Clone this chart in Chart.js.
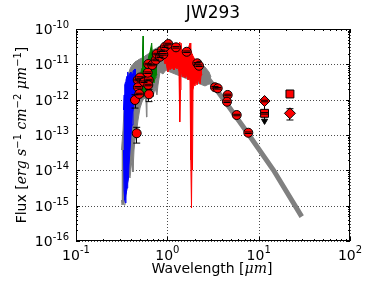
<!DOCTYPE html>
<html>
<head>
<meta charset="utf-8">
<script src="https://cdn.jsdelivr.net/npm/chart.js@4.4.1/dist/chart.umd.min.js"></script>
<style>
  html, body { margin: 0; padding: 0; background: #fff; }
  #wrap { width: 373px; height: 296px; }
</style>
</head>
<body>
<div id="wrap"><canvas id="sed"></canvas></div>
<script>
// Photometry (red circles), wavelength in micron, flux in erg/s/cm2/micron
const photWave = [0.4426, 0.4620, 0.4738, 0.5021, 0.4774, 0.4933, 0.5553, 0.6252, 0.6189, 0.6298,
                  0.6095, 0.6189, 0.6843, 0.7459, 0.7648, 0.8311, 0.8679, 0.9035, 0.9430, 1.025,
                  1.244, 1.630, 2.129, 2.223, 3.327, 3.561, 4.581, 4.50, 5.749, 7.70];
const photFlux = [9.78e-13, 1.12e-13, 3.60e-12, 4.24e-12, 2.24e-12, 1.45e-12, 3.22e-12, 3.60e-12, 2.60e-12, 1.42e-12,
                  5.80e-12, 1.02e-11, 9.57e-12, 1.33e-11, 1.96e-11, 1.64e-11, 2.43e-11, 1.92e-11, 3.16e-11, 3.76e-11,
                  3.03e-11, 2.27e-11, 1.07e-11, 9.14e-12, 2.24e-12, 2.10e-12, 1.36e-12, 8.75e-13, 3.68e-13, 1.16e-13];
const photErr  = [4.0e-13, 5.3e-14, 1.8e-13, 2.1e-13, 1.1e-13, 7.0e-14, 1.6e-13, 1.8e-13, 1.3e-13, 5.4e-13,
                  2.9e-13, 5.0e-13, 4.8e-13, 6.6e-13, 9.8e-13, 8.2e-13, 1.2e-12, 9.6e-13, 1.6e-12, 1.9e-12,
                  1.5e-12, 1.1e-12, 5.4e-13, 4.6e-13, 1.1e-13, 1.05e-13, 6.8e-14, 4.4e-14, 1.8e-14, 5.8e-15];

// diamonds and squares at mid-IR
const diaWave = [11.6, 22.0];
const diaFlux = [9.16e-13, 4.11e-13];
const diaErr  = [4.6e-14, 1.45e-13];
const sqWave = [11.6, 22.0];
const sqFlux = [4.11e-13, 1.45e-12];
const sqErr  = [2.0e-14, 0];

// upper limit
const limWave = [11.6];
const limTop = [9.16e-13];
const limBottom = [2.5e-13];

// model spectrum (grey), noisy part drawn as a band
const modelWave = [0.3148, 0.3189, 0.3271, 0.3355, 0.3439, 0.3527, 0.3618, 0.3710, 0.3805, 0.3903,
                   0.4002, 0.4104, 0.4208, 0.4316, 0.4426, 0.4539, 0.4655, 0.4774, 0.5021, 0.5281,
                   0.5553, 0.5840, 0.5913, 0.5988, 0.6141, 0.6458, 0.6792, 0.6967, 0.7328, 0.7705,
                   0.7902, 0.8311, 0.8966, 0.9670, 1.070, 1.213, 1.376, 1.561, 1.771, 2.009,
                   2.280, 2.585, 2.859, 3.007];
const modelHi = [3.76e-14, 5.93e-14, 1.38e-13, 5.09e-13, 9.78e-13, 2.14e-12, 3.60e-12, 4.99e-12, 6.07e-12, 7.38e-12,
                 8.41e-12, 9.57e-12, 1.02e-11, 1.09e-11, 1.16e-11, 1.24e-11, 1.24e-11, 1.33e-11, 1.42e-11, 1.51e-11,
                 1.61e-11, 1.84e-11, 1.84e-11, 1.84e-11, 1.96e-11, 2.09e-11, 2.38e-11, 2.55e-11, 2.72e-11, 2.90e-11,
                 3.09e-11, 3.30e-11, 3.52e-11, 3.30e-11, 3.09e-11, 2.72e-11, 2.38e-11, 2.09e-11, 1.72e-11, 1.42e-11,
                 1.09e-11, 8.41e-12, 6.07e-12, 4.38e-12];
const modelLo = [1.44e-15, 1.04e-15, 1.19e-15, 1.04e-15, 1.44e-15, 2.00e-15, 3.16e-15, 5.32e-15, 7.36e-15, 6.07e-15,
                 1.16e-14, 1.96e-14, 8.97e-15, 3.76e-14, 7.21e-14, 1.00e-13, 1.58e-13, 2.65e-13, 5.80e-13, 8.60e-13,
                 1.11e-12, 9.78e-13, 3.23e-13, 9.78e-13, 1.65e-12, 1.36e-12, 1.88e-12, 1.19e-12, 2.14e-12, 1.36e-12,
                 2.60e-12, 6.07e-12, 5.33e-12, 6.92e-12, 6.07e-12, 5.33e-12, 4.68e-12, 4.10e-12, 3.60e-12, 3.16e-12,
                 2.77e-12, 2.44e-12, 2.77e-12, 2.96e-12];
// model Rayleigh-Jeans tail
const tailWave = [2.28, 2.70, 3.59, 4.85, 7.4, 14.5, 29.6];
const tailFlux = [8.1e-12, 4.5e-12, 1.66e-12, 5.7e-13, 1.24e-13, 1.02e-14, 4.9e-16];

// blue spectrum
const blueWave = [0.331, 0.3355, 0.3396, 0.3439, 0.3483, 0.3527, 0.3618, 0.3683, 0.3758, 0.3805,
                  0.3903, 0.4002, 0.4104, 0.4208, 0.4316, 0.4426, 0.4482, 0.4539];
const blueHi = [5.09e-13, 1.36e-12, 1.88e-12, 2.60e-12, 3.16e-12, 3.60e-12, 4.68e-12, 6.07e-12, 4.10e-12, 4.68e-12,
                5.69e-12, 6.07e-12, 5.33e-12, 6.48e-12, 6.92e-12, 7.38e-12, 4.99e-12, 2.60e-12];
const blueLo = [3.76e-14, 2.77e-15, 1.64e-15, 1.44e-15, 1.19e-15, 2.00e-15, 3.16e-15, 4.38e-15, 6.07e-15, 1.41e-14,
                3.76e-14, 1.00e-13, 1.92e-13, 4.48e-13, 7.06e-13, 9.78e-13, 1.36e-12, 1.65e-12];

// green spectrum
const greenWave = [0.5084, 0.5148, 0.5281, 0.5347, 0.5415, 0.5484, 0.5553, 0.5694, 0.5840, 0.5988,
                   0.6141, 0.6298, 0.6458, 0.6622, 0.6741, 0.6843, 0.6967, 0.7145, 0.7328, 0.7514, 0.7705];
const greenHi = [4.10e-12, 6.07e-12, 7.88e-12, 2.55e-11, 6.34e-11, 1.33e-11, 8.97e-12, 9.57e-12, 1.02e-11, 8.97e-12,
                 1.33e-11, 1.84e-11, 2.23e-11, 3.09e-11, 4.01e-11, 2.23e-11, 1.51e-11, 1.33e-11, 1.16e-11, 1.02e-11, 8.97e-12];
const greenLo = [2.14e-12, 1.88e-12, 1.65e-12, 1.36e-12, 1.19e-12, 1.65e-12, 1.88e-12, 1.55e-12, 1.45e-12, 2.14e-12,
                 2.44e-12, 2.77e-12, 3.16e-12, 3.60e-12, 4.10e-12, 3.16e-12, 3.60e-12, 2.96e-12, 4.10e-12, 4.68e-12, 5.33e-12];

// red spectrum
const redWave = [0.920, 0.943, 0.967, 0.992, 1.017, 1.043, 1.070, 1.097, 1.125, 1.154,
                 1.183, 1.213, 1.244, 1.276, 1.309, 1.342, 1.359, 1.376, 1.394, 1.411,
                 1.447, 1.484, 1.522, 1.561, 1.601, 1.642, 1.684, 1.727, 1.771, 1.794,
                 1.816, 1.839, 1.863, 1.886, 1.910, 1.959, 2.009, 2.061, 2.113, 2.167,
                 2.223, 2.280, 2.338, 2.397];
const redHi = [2.23e-11, 3.76e-11, 2.55e-11, 3.30e-11, 3.09e-11, 3.76e-11, 2.90e-11, 3.52e-11, 3.09e-11, 3.30e-11,
               2.72e-11, 3.09e-11, 2.55e-11, 2.90e-11, 2.38e-11, 3.30e-11, 4.28e-11, 2.90e-11, 2.55e-11, 4.01e-11,
               2.23e-11, 1.96e-11, 2.55e-11, 2.23e-11, 2.90e-11, 2.09e-11, 2.55e-11, 3.30e-11, 4.01e-11, 2.90e-11,
               2.55e-11, 2.23e-11, 1.96e-11, 1.84e-11, 1.72e-11, 1.51e-11, 1.33e-11, 1.16e-11, 1.24e-11, 1.02e-11,
               1.09e-11, 8.97e-12, 7.88e-12, 6.92e-12];
const redLo = [1.33e-11, 1.02e-11, 1.16e-11, 7.88e-12, 6.07e-12, 8.97e-12, 6.92e-12, 8.41e-12, 7.38e-12, 8.97e-12,
               6.92e-12, 7.88e-12, 8.41e-12, 7.38e-12, 8.41e-12, 6.07e-12, 9.78e-13, 2.33e-13, 1.88e-12, 6.92e-12,
               4.99e-12, 4.38e-12, 5.33e-12, 4.10e-12, 4.99e-12, 4.38e-12, 3.60e-12, 4.10e-12, 3.60e-12, 5.09e-13,
               1.96e-14, 8.57e-16, 3.76e-14, 1.02e-14, 1.88e-12, 2.77e-12, 2.44e-12, 3.60e-12, 2.60e-12, 3.16e-12,
               4.10e-12, 2.77e-12, 4.68e-12, 5.33e-12];

// axes: decade ticks, labels as [base, exponent]
const xTickValues = [0.1, 1, 10, 100];
const xTickLabels = [['10', '-1'], ['10', '0'], ['10', '1'], ['10', '2']];
const yTickValues = [1e-16, 1e-15, 1e-14, 1e-13, 1e-12, 1e-11, 1e-10];
const yTickLabels = [['10', '-16'], ['10', '-15'], ['10', '-14'], ['10', '-13'], ['10', '-12'], ['10', '-11'], ['10', '-10']];

const UP = "14px 'DejaVu Sans'";
const SUP = "10px 'DejaVu Sans'";
const IT = "italic 14px 'DejaVu Serif'";
const xLabelRuns = [
    { t: 'Wavelength [', f: UP }, { t: 'μm', f: IT }, { t: ']', f: UP }
];
const yLabelRuns = [
    { t: 'Flux [', f: UP },
    { t: 'erg', f: IT }, { t: ' s', f: IT }, { t: '−1', f: SUP, rise: 5.5 },
    { t: ' cm', f: IT }, { t: '−2', f: SUP, rise: 5.5 },
    { t: ' μm', f: IT }, { t: '−1', f: SUP, rise: 5.5 },
    { t: ']', f: UP }
];

const CIRCLES = 9;
const markerSets = [
    { wave: photWave, flux: photFlux, err: photErr },
    { wave: diaWave, flux: diaFlux, err: diaErr },
    { wave: sqWave, flux: sqFlux, err: sqErr }
];

const xy = (xs, ys) => xs.map((x, i) => ({ x, y: ys[i] }));

function band(wave, vals, color, order, fillPrev) {
    return {
        data: xy(wave, vals), borderColor: color, backgroundColor: color,
        borderWidth: 1, pointRadius: 0, fill: fillPrev ? '-1' : false, order
    };
}

function markers(wave, flux, style, radius, order) {
    return {
        data: xy(wave, flux), showLine: false, fill: false, order,
        pointStyle: style, pointRadius: radius,
        pointBackgroundColor: '#ff0000', pointBorderColor: '#000', pointBorderWidth: 1
    };
}

function runsWidth(ctx, runs) {
    return runs.reduce((w, r) => { ctx.font = r.f; return w + ctx.measureText(r.t).width; }, 0);
}

function drawRuns(ctx, runs, x, y) {
    runs.forEach(r => {
        ctx.font = r.f;
        ctx.fillText(r.t, x, y - (r.rise || 0));
        x += ctx.measureText(r.t).width;
    });
}

// dotted grid under the data
const dottedGrid = {
    id: 'dottedGrid',
    beforeDatasetsDraw(chart) {
        const { ctx, chartArea: a, scales: { x, y } } = chart;
        ctx.save();
        ctx.strokeStyle = 'rgba(0,0,0,0.7)';
        ctx.lineWidth = 1;
        ctx.setLineDash([1, 2]);
        ctx.beginPath();
        xTickValues.forEach(v => {
            const px = Math.round(x.getPixelForValue(v)) + 0.5;
            ctx.moveTo(px, a.top); ctx.lineTo(px, a.bottom);
        });
        yTickValues.forEach(v => {
            const py = Math.round(y.getPixelForValue(v)) + 0.5;
            ctx.moveTo(a.left, py); ctx.lineTo(a.right, py);
        });
        ctx.stroke();
        ctx.restore();
    }
};

// error bars: bars under the markers, caps on top
const errorBars = {
    id: 'errorBars',
    beforeDatasetDraw(chart, args) {
        if (args.index !== CIRCLES) return;
        const { ctx, scales: { x, y } } = chart;
        ctx.save();
        ctx.strokeStyle = '#000';
        ctx.lineWidth = 1;
        ctx.beginPath();
        markerSets.forEach(s => s.wave.forEach((w, i) => {
            if (!s.err[i]) return;
            const px = Math.floor(x.getPixelForValue(w)) + 0.5;
            ctx.moveTo(px, y.getPixelForValue(s.flux[i] + s.err[i]));
            ctx.lineTo(px, y.getPixelForValue(s.flux[i] - s.err[i]));
        }));
        limWave.forEach((w, i) => {
            const px = Math.floor(x.getPixelForValue(w)) + 0.5;
            ctx.moveTo(px, y.getPixelForValue(limTop[i]));
            ctx.lineTo(px, y.getPixelForValue(limBottom[i]));
        });
        ctx.stroke();
        ctx.restore();
    },
    afterDatasetsDraw(chart) {
        const { ctx, scales: { x, y } } = chart;
        ctx.save();
        ctx.strokeStyle = '#000';
        ctx.lineWidth = 1;
        ctx.beginPath();
        markerSets.forEach(s => s.wave.forEach((w, i) => {
            if (!s.err[i]) return;
            const px = x.getPixelForValue(w);
            [s.flux[i] + s.err[i], s.flux[i] - s.err[i]].forEach(v => {
                const py = y.getPixelForValue(v);
                ctx.moveTo(px - 3.5, py);
                ctx.lineTo(px + 3.5, py);
            });
        }));
        ctx.stroke();
        ctx.restore();
    }
};

// frame, inward ticks, tick labels and axis labels
const frameAndText = {
    id: 'frameAndText',
    afterDraw(chart) {
        const { ctx, chartArea: a, scales: { x, y } } = chart;
        ctx.save();
        ctx.strokeStyle = '#000';
        ctx.lineWidth = 1;
        ctx.strokeRect(a.left + 0.5, a.top + 0.5, a.right - a.left - 1, a.bottom - a.top - 1);
        ctx.beginPath();
        for (let e = -1; e <= 2; e++) {
            for (let m = 1; m <= 9; m++) {
                const v = m * Math.pow(10, e);
                if (v > 100.01) break;
                const px = Math.round(x.getPixelForValue(v)) + 0.5;
                const len = m === 1 ? 4 : 2;
                ctx.moveTo(px, a.bottom); ctx.lineTo(px, a.bottom - len);
                ctx.moveTo(px, a.top); ctx.lineTo(px, a.top + len);
            }
        }
        for (let e = -16; e <= -10; e++) {
            for (let m = 1; m <= 9; m++) {
                const v = m * Math.pow(10, e);
                if (v > 1.0001e-10) break;
                const py = Math.round(y.getPixelForValue(v)) + 0.5;
                const len = m === 1 ? 4 : 2;
                ctx.moveTo(a.left, py); ctx.lineTo(a.left + len, py);
                ctx.moveTo(a.right, py); ctx.lineTo(a.right - len, py);
            }
        }
        ctx.stroke();

        ctx.fillStyle = '#000';
        ctx.textBaseline = 'alphabetic';
        ctx.textAlign = 'left';
        xTickValues.forEach((v, i) => {
            const [b, p] = xTickLabels[i];
            const runs = [{ t: b, f: UP }, { t: p, f: SUP, rise: 6.8 }];
            const w = runsWidth(ctx, runs);
            drawRuns(ctx, runs, x.getPixelForValue(v) - w / 2, a.bottom + 18.5);
        });
        yTickValues.forEach((v, i) => {
            const [b, p] = yTickLabels[i];
            const runs = [{ t: b, f: UP }, { t: p, f: SUP, rise: 6 }];
            const w = runsWidth(ctx, runs);
            drawRuns(ctx, runs, a.left - 7 - w, y.getPixelForValue(v) + 5);
        });

        const wx = runsWidth(ctx, xLabelRuns);
        drawRuns(ctx, xLabelRuns, (a.left + a.right) / 2 - wx / 2 - 1, 273);

        const wy = runsWidth(ctx, yLabelRuns);
        ctx.translate(26, (a.top + a.bottom) / 2);
        ctx.rotate(-Math.PI / 2);
        drawRuns(ctx, yLabelRuns, -wy / 2, 0);
        ctx.restore();
    }
};

Chart.defaults.font.family = "'DejaVu Sans', sans-serif";
Chart.defaults.color = '#000';

new Chart(document.getElementById('sed'), {
    type: 'line',
    data: {
        datasets: [
            band(modelWave, modelLo, '#808080', 20, false),
            band(modelWave, modelHi, '#808080', 20, true),
            { data: xy(tailWave, tailFlux), borderColor: '#808080', borderWidth: 5, pointRadius: 0, fill: false, order: 19 },
            band(blueWave, blueLo, '#0000ff', 18, false),
            band(blueWave, blueHi, '#0000ff', 18, true),
            band(greenWave, greenLo, '#008000', 17, false),
            band(greenWave, greenHi, '#008000', 17, true),
            band(redWave, redLo, '#ff0000', 16, false),
            band(redWave, redHi, '#ff0000', 16, true),
            markers(photWave, photFlux, 'circle', 4.5, 4),
            markers(diaWave, diaFlux, 'rectRot', 5.5, 3),
            markers(sqWave, sqFlux, 'rect', 5.6, 2),
            {
                data: xy(limWave, limBottom), showLine: false, fill: false, order: 1,
                pointStyle: 'triangle', pointRotation: 180, pointRadius: 3.5,
                pointBackgroundColor: '#000', pointBorderColor: '#000', pointBorderWidth: 1
            }
        ]
    },
    options: {
        responsive: true,
        maintainAspectRatio: false,
        animation: false,
        events: [],
        layout: { padding: { left: 0, right: 23, top: 0, bottom: 0 } },
        plugins: {
            legend: { display: false },
            tooltip: { enabled: false },
            title: {
                display: true, text: 'JW293', fullSize: false,
                font: { size: 17, weight: 'normal' },
                padding: { top: 3.5, bottom: 5.1 }
            }
        },
        scales: {
            x: {
                type: 'logarithmic', position: 'bottom', min: 0.1, max: 100,
                afterFit: s => { s.height = 55; },
                grid: { display: false },
                border: { display: false },
                ticks: { display: false }
            },
            y: {
                type: 'logarithmic', position: 'left', min: 1e-16, max: 1e-10,
                afterFit: s => { s.width = 76; },
                grid: { display: false },
                border: { display: false },
                ticks: { display: false }
            }
        }
    },
    plugins: [dottedGrid, errorBars, frameAndText]
});
</script>
</body>
</html>
